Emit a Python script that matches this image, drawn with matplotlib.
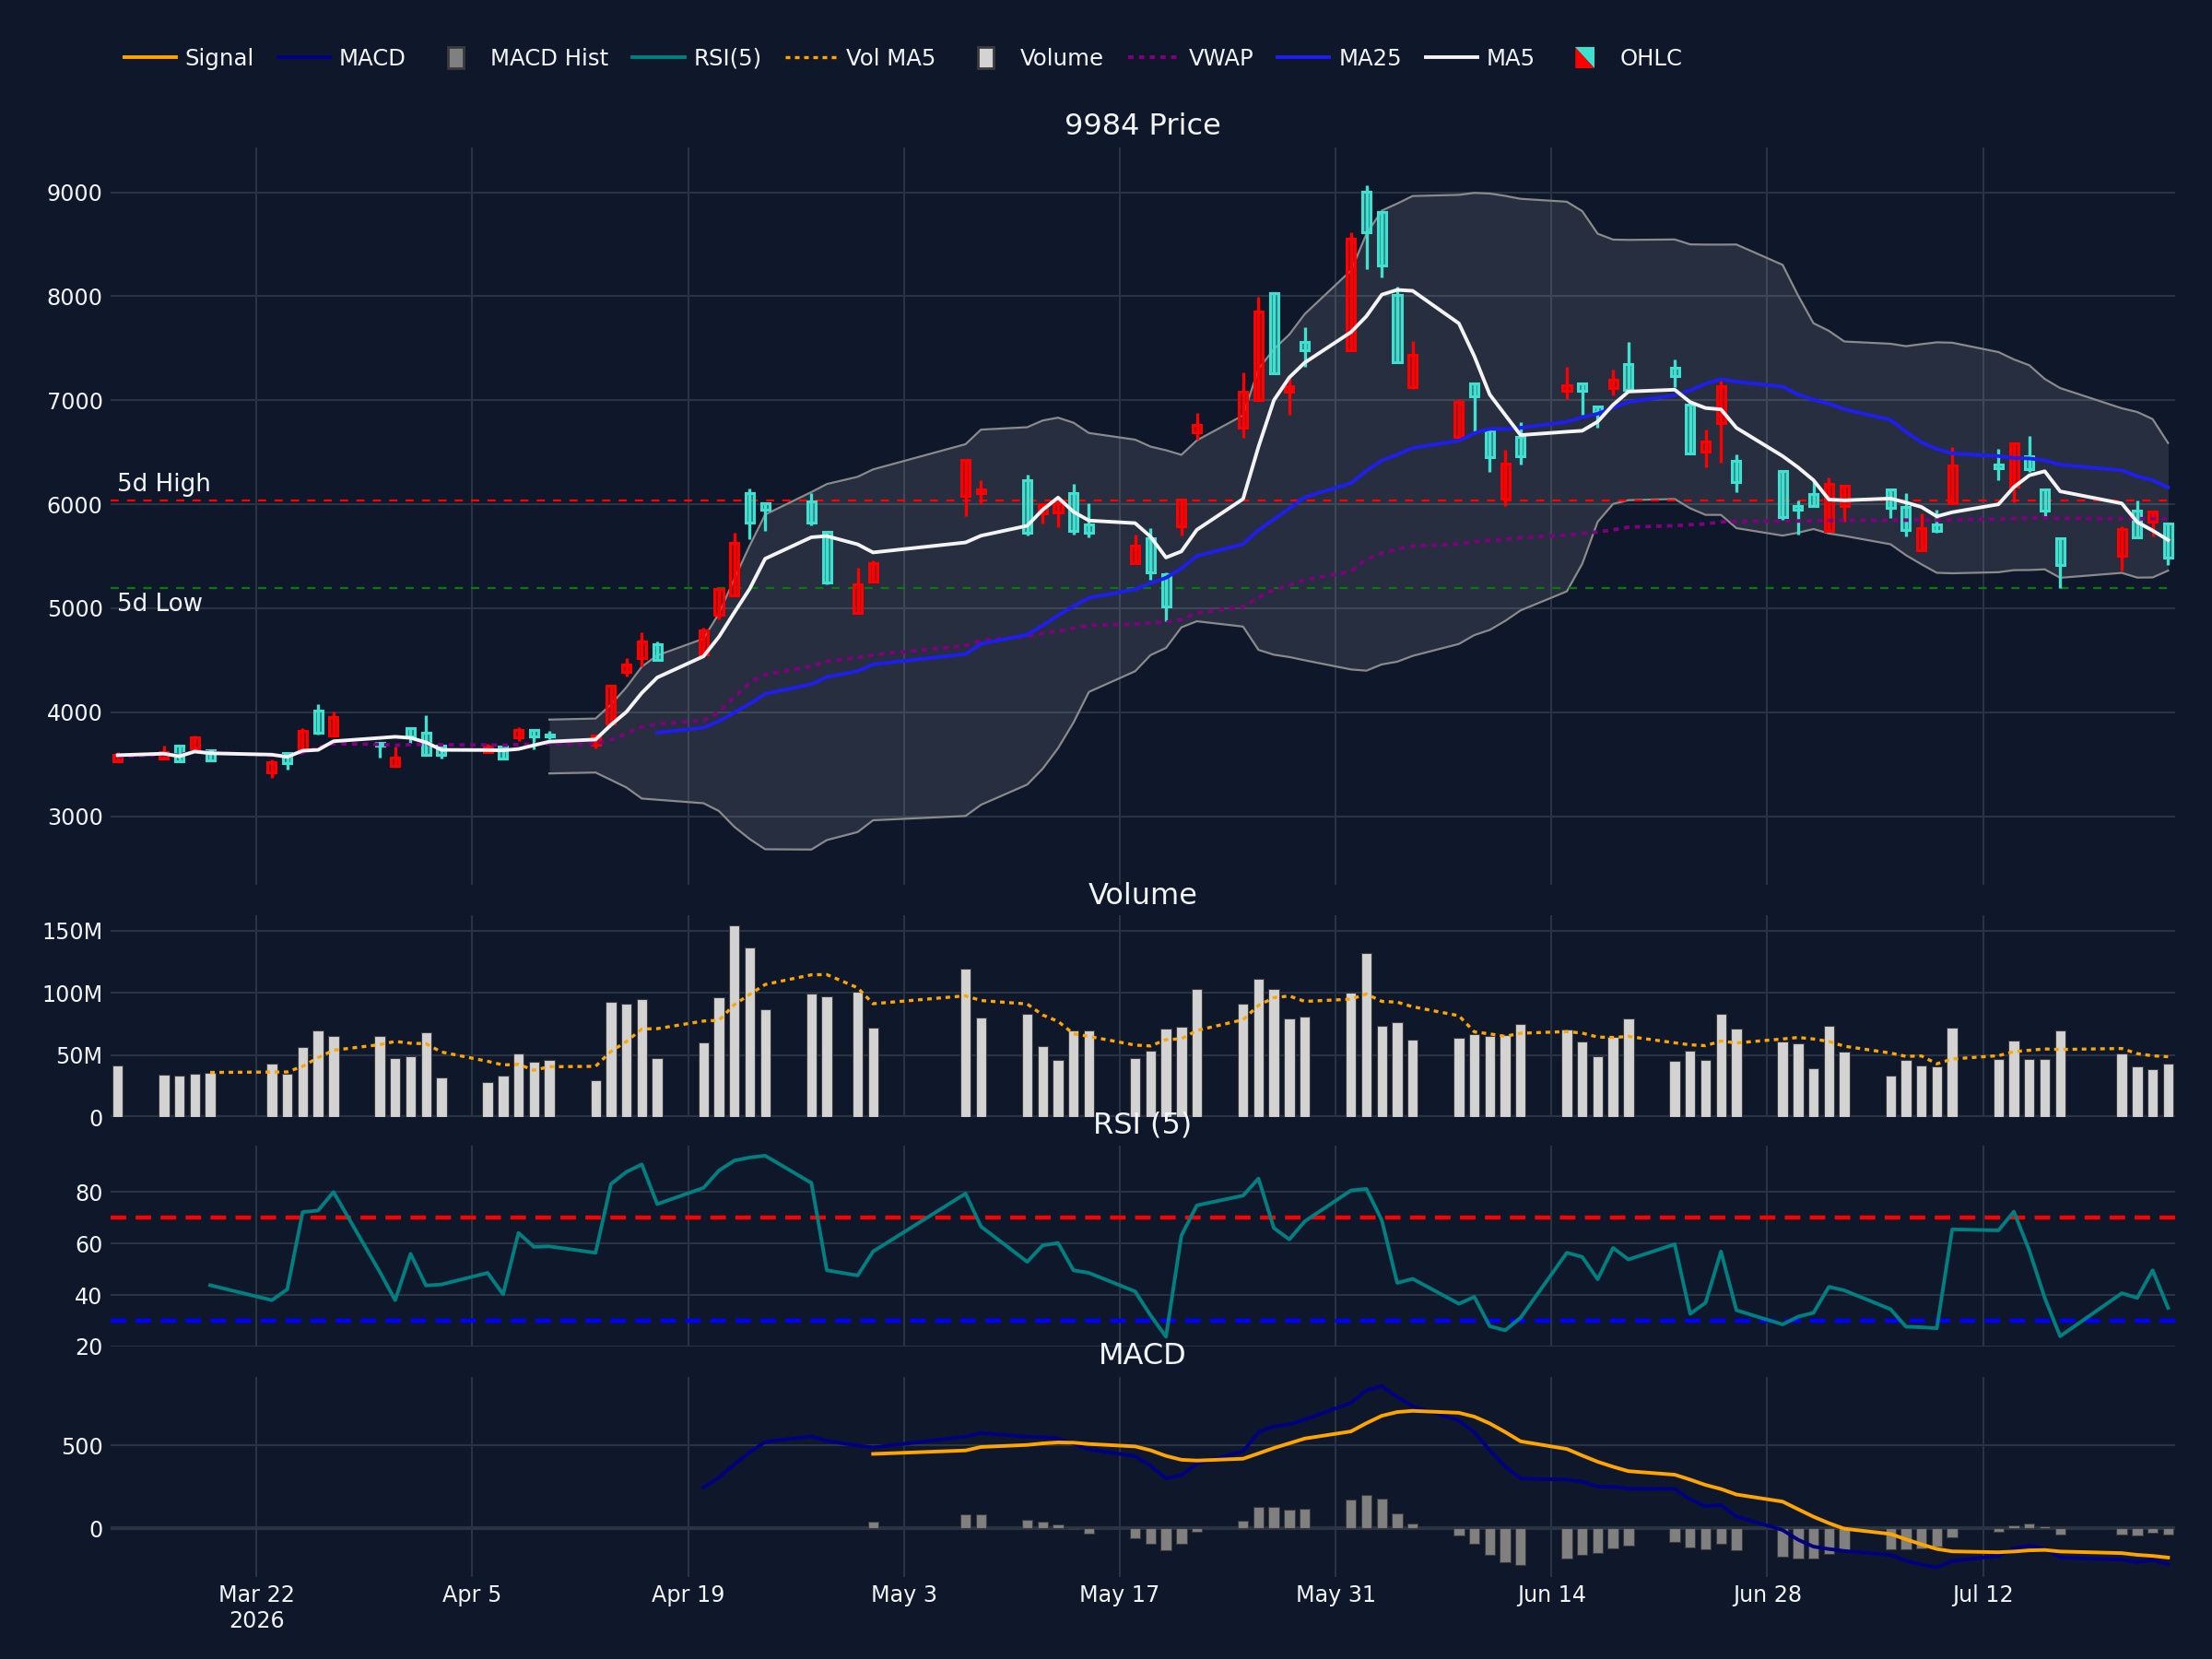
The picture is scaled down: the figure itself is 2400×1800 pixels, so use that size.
import numpy as np
import pandas as pd
import matplotlib
matplotlib.use("Agg")
import matplotlib.pyplot as plt
import matplotlib.transforms as mtransforms
from matplotlib.lines import Line2D
from matplotlib.patches import Patch, Polygon, Rectangle
from matplotlib.legend_handler import HandlerBase, HandlerPatch
from matplotlib.ticker import FuncFormatter

plt.rcParams['font.family'] = ['DejaVu Sans']

BG = '#0f172a'
GRID = '#283442'
TXT = '#f2f5fa'
UP = '#ff0000'
DOWN = '#40e0d0'

# ---- data ----
holidays = ['2026-03-20', '2026-04-29', '2026-05-04', '2026-05-05', '2026-05-06', '2026-07-20']
dates = pd.bdate_range('2026-03-13', '2026-07-24')
dates = dates[~dates.isin(pd.to_datetime(holidays))]

opens = [3525, 3552, 3676, 3652, 3634, 3419, 3608, 3643, 4015, 3773,
         3708, 3484, 3847, 3799, 3676, 3620, 3670, 3758, 3832, 3790,
         3684, 3891, 4386, 4525, 4652, 4560, 4938, 5121, 6109, 6012,
         6028, 5733, 4953, 5256, 6081, 6110, 6228, 5916, 5925, 6110,
         5807, 5430, 5674, 5327, 5792, 6690, 6735, 7006, 8031, 7085,
         7559, 7483, 9009, 8809, 8013, 7123, 6652, 7162, 6711, 6054,
         6652, 7094, 7165, 6938, 7117, 7350, 7313, 6956, 6506, 6784,
         6421, 6324, 5980, 6097, 5745, 5986, 6139, 5977, 5559, 5809,
         6006, 6383, 6168, 6462, 6139, 5677, 5506, 5942, 5830, 5815]
highs = [3614, 3681, 3680, 3776, 3640, 3546, 3612, 3852, 4080, 4003,
         3710, 3667, 3850, 3976, 3680, 3693, 3675, 3855, 3835, 3817,
         3776, 4256, 4525, 4767, 4684, 4814, 5190, 5723, 6153, 6015,
         6107, 5745, 5391, 5459, 6435, 6234, 6281, 6000, 6072, 6196,
         6013, 5710, 5769, 5344, 6045, 6875, 7271, 7992, 8035, 7212,
         7707, 8617, 9068, 8812, 8090, 7574, 7014, 7165, 6714, 6528,
         6793, 7324, 7168, 6940, 7291, 7559, 7395, 6960, 6721, 7185,
         6480, 6327, 6039, 6221, 6259, 6180, 6142, 6106, 5912, 5950,
         6550, 6535, 6586, 6656, 6148, 5680, 5786, 6035, 5936, 5818]
lows = [3522, 3548, 3522, 3650, 3538, 3366, 3445, 3640, 3782, 3767,
        3560, 3480, 3702, 3578, 3555, 3605, 3543, 3723, 3640, 3743,
        3649, 3889, 4348, 4442, 4496, 4555, 4894, 5118, 5667, 5746,
        5798, 5232, 4950, 5250, 5886, 6004, 5698, 5813, 5777, 5710,
        5683, 5428, 5277, 4879, 5698, 6620, 6643, 7000, 7250, 6864,
        7324, 7480, 8258, 8178, 7360, 7109, 6637, 6696, 6313, 5980,
        6381, 7011, 6858, 6735, 7050, 7095, 7124, 6488, 6353, 6400,
        6112, 5853, 5712, 5977, 5742, 5833, 5868, 5692, 5556, 5727,
        6003, 6230, 6015, 6309, 5859, 5192, 5360, 5683, 5692, 5418]
closes = [3587, 3617, 3525, 3761, 3540, 3519, 3510, 3820, 3802, 3956,
          3678, 3566, 3767, 3587, 3593, 3670, 3552, 3832, 3767, 3767,
          3773, 4254, 4457, 4681, 4507, 4790, 5189, 5631, 5823, 5950,
          5822, 5247, 5232, 5433, 6431, 6146, 5727, 5998, 6019, 5748,
          5727, 5601, 5344, 5020, 6043, 6765, 7085, 7854, 7256, 7138,
          7477, 8552, 8617, 8296, 7365, 7433, 6985, 7041, 6452, 6387,
          6461, 7147, 7088, 6888, 7197, 7100, 7236, 6491, 6603, 7133,
          6212, 5877, 5950, 5986, 6200, 6177, 5965, 5756, 5774, 5745,
          6377, 6347, 6583, 6339, 5942, 5412, 5765, 5686, 5933, 5486]
volume_m = [41.5, 34.3, 33.5, 34.7, 35.5, 43, 34.7, 56, 69.8, 65.3,
            65.3, 47.6, 48.8, 68, 31.9, 27.8, 33, 51.2, 44.4, 46,
            29.4, 93, 91, 94.8, 47.2, 60, 96, 154, 136, 87,
            99, 96.8, 101, 71.8, 119, 80, 82.7, 56.9, 46, 69.4,
            69.4, 47.6, 53.6, 71.4, 72.6, 102.8, 91, 111, 103, 79,
            81, 100, 132, 73, 76, 62.5, 64, 67, 65, 66,
            75, 70.6, 61, 49, 64.5, 79, 45, 53, 45.6, 83,
            71.4, 61, 59, 39.5, 73, 52.4, 33.5, 45.6, 41.5, 41,
            72, 46.8, 61.7, 47, 46.4, 69.8, 50.8, 41, 38.3, 42.7]
rsi5 = [np.nan, np.nan, np.nan, np.nan, 43.8, 38.0, 42.2, 72.2, 72.8, 80.0,
        49.0, 38.0, 56.0, 43.7, 44.1, 48.6, 40.3, 64.1, 58.7, 58.9,
        56.4, 83.1, 87.8, 90.7, 75.3, 81.6, 88.3, 92.2, 93.4, 94.1,
        83.5, 49.6, 47.6, 56.9, 79.4, 66.6, 52.9, 59.3, 60.2, 49.6,
        48.6, 41.4, 32.1, 23.8, 63.1, 74.8, 78.6, 85.2, 66.0, 61.6,
        68.6, 80.6, 81.2, 69.0, 44.7, 46.3, 36.6, 39.3, 27.9, 26.3,
        31.2, 56.4, 54.8, 46.1, 58.3, 53.8, 59.7, 32.7, 37.0, 56.9,
        34.1, 28.6, 31.6, 33.1, 43.2, 41.8, 34.5, 27.7, 27.5, 27.1,
        65.5, 65.1, 72.4, 57.3, 38.9, 24.0, 40.7, 38.9, 49.6, 35.0]

df = pd.DataFrame({'open': opens, 'high': highs, 'low': lows, 'close': closes,
                   'volume': np.array(volume_m) * 1e6, 'rsi': rsi5}, index=dates)

# indicators
df['ma5'] = df['close'].rolling(5, min_periods=1).mean()
df['ma25'] = df['close'].rolling(25).mean()
mid = df['close'].rolling(20).mean()
sd = df['close'].rolling(20).std()
df['bb_up'] = mid + 2 * sd
df['bb_lo'] = mid - 2 * sd
tp = (df['high'] + df['low'] + df['close']) / 3
df['vwap'] = (tp * df['volume']).cumsum() / df['volume'].cumsum()
df['vol_ma5'] = df['volume'].rolling(5).mean()
ema12 = df['close'].ewm(span=12, adjust=False).mean()
ema26 = df['close'].ewm(span=26, adjust=False, min_periods=26).mean()
df['macd'] = ema12 - ema26
df['signal'] = df['macd'].ewm(span=9, adjust=False, min_periods=9).mean()
df['hist'] = df['macd'] - df['signal']
hi5 = df['high'].iloc[-5:].max()
lo5 = df['low'].iloc[-5:].min()

# ---- figure ----
fig = plt.figure(figsize=(12, 9), dpi=200, facecolor=BG)
L, W = 120 / 2400, (2360 - 120) / 2400


def px_axes(top, bottom, share=None):
    return fig.add_axes([L, 1 - bottom / 1800, W, (bottom - top) / 1800], sharex=share)


ax_p = px_axes(160, 960)
ax_v = px_axes(993, 1212, ax_p)
ax_r = px_axes(1243, 1461, ax_p)
ax_m = px_axes(1494, 1711, ax_p)

xticks = pd.date_range('2026-03-22', periods=9, freq='14D')
for ax in (ax_p, ax_v, ax_r, ax_m):
    ax.set_facecolor(BG)
    for s in ax.spines.values():
        s.set_visible(False)
    ax.tick_params(length=0, labelcolor=TXT, labelsize=8.6, pad=3)
    ax.grid(True, color=GRID, lw=0.75)
    ax.set_axisbelow(True)
    ax.set_xticks(xticks)

# price panel
x = df.index
ax_p.fill_between(x, df['bb_lo'], df['bb_up'], color='white', alpha=0.1, lw=0)
ax_p.plot(x, df['bb_up'], color='#8a8a8a', lw=0.8)
ax_p.plot(x, df['bb_lo'], color='#8a8a8a', lw=0.8)
for d, o, h, l, c in zip(x, df['open'], df['high'], df['low'], df['close']):
    col = UP if c >= o else DOWN
    ax_p.vlines(d, l, h, color=col, lw=1.2, zorder=3)
    ax_p.bar(d, max(abs(c - o), 8), bottom=min(o, c), width=0.54,
             edgecolor=col, lw=1.1, zorder=3,
             facecolor=matplotlib.colors.to_rgba(col, 0.5))
ax_p.axhline(hi5, color='red', lw=0.8, ls=(0, (4, 4)), zorder=2)
ax_p.axhline(lo5, color='green', lw=0.8, ls=(0, (4, 4)), zorder=2)
ax_p.plot(x, df['vwap'], color='purple', lw=1.4, ls=(0, (1.5, 1.5)), zorder=4)
ax_p.plot(x, df['ma25'], color='#1e1ef0', lw=1.4, zorder=4)
ax_p.plot(x, df['ma5'], color='#f4f4f4', lw=1.4, zorder=5)
tr = mtransforms.blended_transform_factory(ax_p.transAxes, ax_p.transData)
ax_p.text(0.003, hi5 + 40, '5d High', transform=tr, color=TXT, fontsize=9.4, va='bottom', ha='left')
ax_p.text(0.003, lo5 - 40, '5d Low', transform=tr, color=TXT, fontsize=9.4, va='top', ha='left')
ax_p.set_ylim(2341, 9431)
ax_p.set_yticks(range(3000, 9001, 1000))
ax_p.tick_params(labelbottom=False)

# volume panel
ax_v.bar(x, df['volume'], width=0.68, color='#d3d3d3', edgecolor='#3a3a3a', lw=0.4, zorder=3)
ax_v.plot(x, df['vol_ma5'], color='orange', lw=1.2, ls=(0, (1.5, 1.5)), zorder=4)
ax_v.axhline(0, color=GRID, lw=1.5, zorder=2)
ax_v.set_ylim(0, 162.3e6)
ax_v.set_yticks([0, 50e6, 100e6, 150e6])
ax_v.yaxis.set_major_formatter(FuncFormatter(lambda v, p: '0' if v == 0 else f'{v / 1e6:.0f}M'))
ax_v.tick_params(labelbottom=False)

# RSI panel
ax_r.plot(x, df['rsi'], color='teal', lw=1.4, zorder=4)
ax_r.axhline(70, color='red', lw=1.6, ls=(0, (3.8, 2.3)), zorder=3)
ax_r.axhline(30, color='blue', lw=1.6, ls=(0, (3.8, 2.3)), zorder=3)
ax_r.set_ylim(20, 98)
ax_r.set_yticks([20, 40, 60, 80])
ax_r.tick_params(labelbottom=False)

# MACD panel
ax_m.axhline(0, color=GRID, lw=1.5, zorder=2)
ax_m.bar(x, df['hist'], width=0.68, color='gray', edgecolor='#3a3a3a', lw=0.4, zorder=3)
ax_m.plot(x, df['macd'], color='navy', lw=1.4, zorder=4)
ax_m.plot(x, df['signal'], color='orange', lw=1.4, zorder=5)
ax_m.set_ylim(-294, 911)
ax_m.set_yticks([0, 500])
ax_m.set_xticklabels([f'{d:%b} {d.day}' + ('\n2026' if i == 0 else '') for i, d in enumerate(xticks)])

ax_p.set_xlim(x[0] - pd.Timedelta(hours=11), x[-1] + pd.Timedelta(hours=11))

# subplot titles
cx = L + W / 2
for label, ypx in [('9984 Price', 138), ('Volume', 972), ('RSI (5)', 1221), ('MACD', 1472)]:
    fig.text(cx, 1 - ypx / 1800, label, color=TXT, fontsize=11.5, ha='center', va='center')


class OHLCHandler(HandlerBase):
    def create_artists(self, legend, orig_handle, xdescent, ydescent, width, height, fontsize, trans):
        w = width * 0.36
        x0 = -xdescent + (width - w) / 2
        h = height * 1.35
        y0 = -ydescent + (height - h) / 2
        a = Polygon([[x0, y0], [x0 + w, y0], [x0, y0 + h]], closed=True, facecolor=UP,
                    edgecolor='none', transform=trans)
        b = Polygon([[x0 + w, y0], [x0 + w, y0 + h], [x0, y0 + h]], closed=True, facecolor=DOWN,
                    edgecolor='none', transform=trans)
        return [a, b]


def small_box(legend, orig_handle, xdescent, ydescent, width, height, fontsize):
    w = width * 0.3
    h = height * 1.35
    return Rectangle((-xdescent + (width - w) / 2, -ydescent + (height - h) / 2), w, h)


ohlc_key = object()
handles = [Line2D([], [], color='orange', lw=1.4),
           Line2D([], [], color='navy', lw=1.4),
           Patch(facecolor='gray', edgecolor='#3a3a3a'),
           Line2D([], [], color='teal', lw=1.4),
           Line2D([], [], color='orange', lw=1.2, ls=(0, (1.5, 1.5))),
           Patch(facecolor='#d3d3d3', edgecolor='#3a3a3a'),
           Line2D([], [], color='purple', lw=1.4, ls=(0, (1.5, 1.5))),
           Line2D([], [], color='#1e1ef0', lw=1.4),
           Line2D([], [], color='#f4f4f4', lw=1.4),
           ohlc_key]
labels = ['Signal', 'MACD', 'MACD Hist', 'RSI(5)', 'Vol MA5', 'Volume', 'VWAP', 'MA25', 'MA5', 'OHLC']
fig.legend(handles, labels, loc='center left', bbox_to_anchor=(0.047, 1 - 64 / 1800), ncol=10,
           frameon=False, fontsize=8.8, labelcolor=TXT, handlelength=2.3, handletextpad=0.4,
           columnspacing=1.05,
           handler_map={ohlc_key: OHLCHandler(), Patch: HandlerPatch(patch_func=small_box)})

fig.savefig('out.png', dpi=200, facecolor=BG)
